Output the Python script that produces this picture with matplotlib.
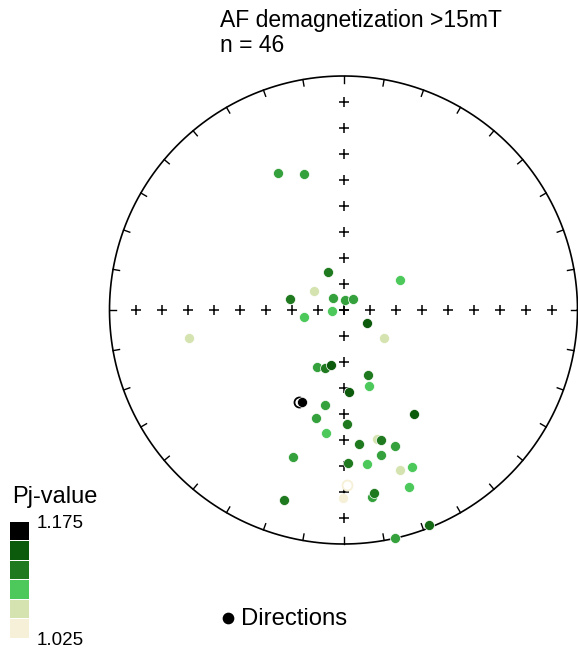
import numpy as np
import matplotlib
matplotlib.use("Agg")
import matplotlib.pyplot as plt
from matplotlib.colors import LinearSegmentedColormap, Normalize
from matplotlib.patches import Rectangle

plt.rcParams["font.family"] = ["Liberation Sans", "DejaVu Sans"]

# specimen directions (deg), negative inclination = upper hemisphere
dec = [334.5, 343.7, 259.9, 338.0, 62.1, 303.5, 281.5, 319.5, 7.0, 40.8,
       260.4, 266.6, 119.8, 124.2, 205.3, 197.6, 193.1, 159.1, 161.2, 175.9,
       206.1, 204.1, 191.0, 145.7, 194.4, 178.2, 188.1, 165.6, 163.9, 173.5,
       159.3, 199.0, 165.5, 178.3, 171.4, 160.6, 156.4, 179.0, 180.1, 159.7,
       171.4, 170.6, 197.4, 158.3, 167.3]
inc = [35.3, 39.2, 33.4, 75.9, 67.9, 77.9, 70.9, 84.4, 86.6, 85.0,
       76.0, 85.9, 80.7, 72.9, 68.2, 68.7, 70.4, 65.7, 62.0, 61.3,
       -54.0, 54.5, 55.9, 45.4, 50.5, 49.7, 45.8, 42.4, 41.6, 41.9,
       37.8, 34.0, 36.3, 34.9, 33.9, 28.5, 27.5, -26.1, 20.9, 20.3,
       20.4, 21.7, 15.9, 1.4, 0.3]
pj = [1.100, 1.100, 1.055, 1.115, 1.085, 1.055, 1.115, 1.100, 1.100, 1.100,
      1.085, 1.085, 1.145, 1.055, 1.100, 1.115, 1.145, 1.115, 1.085, 1.145,
      1.175, 1.175, 1.100, 1.145, 1.100, 1.115, 1.085, 1.055, 1.115, 1.115,
      1.100, 1.100, 1.100, 1.115, 1.085, 1.055, 1.085, 1.025, 1.025, 1.085,
      1.100, 1.115, 1.115, 1.130, 1.100]

pj_levels = [1.025, 1.055, 1.085, 1.115, 1.145, 1.175]
pj_colors = ["#f6f0d8", "#d5e3b0", "#4cc95a", "#1f7a1f", "#0c5a0c", "#000000"]

title = "AF demagnetization >15mT"


def equal_area(d, i):
    d = np.radians(np.asarray(d))
    i = np.radians(np.abs(np.asarray(i)))
    r = np.sqrt(2) * np.sin((np.pi / 2 - i) / 2)
    return r * np.sin(d), r * np.cos(d)


W, H = 578, 654
fig = plt.figure(figsize=(W / 100, H / 100), dpi=100)

cx, cy, R = 343.5, 310, 234
ax = fig.add_axes([(cx - R) / W, (H - cy - R) / H, 2 * R / W, 2 * R / H])
ax.set_xlim(-1, 1)
ax.set_ylim(-1, 1)
ax.set_aspect("equal")
ax.axis("off")

# primitive circle with 10 degree ticks
t = np.linspace(0, 2 * np.pi, 500)
ax.plot(np.cos(t), np.sin(t), color="k", lw=1.2, clip_on=False)
for a in np.radians(np.arange(0, 360, 10)):
    ax.plot([np.sin(a), 0.972 * np.sin(a)], [np.cos(a), 0.972 * np.cos(a)],
            color="k", lw=1.0, clip_on=False)

# crosses along the N-S and E-W axes
steps = np.arange(-8, 9) / 9
ax.plot(steps, np.zeros_like(steps), "+", color="k", ms=6.5, mew=1.1)
ax.plot(np.zeros_like(steps), steps, "+", color="k", ms=6.5, mew=1.1)

cmap = LinearSegmentedColormap.from_list("pj", pj_colors)
norm = Normalize(min(pj_levels), max(pj_levels))

x, y = equal_area(dec, inc)
for xi, yi, ii, p in zip(x, y, inc, pj):
    c = cmap(norm(p))
    if ii < 0:
        ax.scatter(xi, yi, s=52, facecolor="white", edgecolor=c, lw=1.3, zorder=3)
    else:
        ax.scatter(xi, yi, s=52, facecolor=c, edgecolor="white", lw=0.5, zorder=3)

# overlay in pixel coordinates for text and legends
ov = fig.add_axes([0, 0, 1, 1])
ov.set_xlim(0, W)
ov.set_ylim(H, 0)
ov.axis("off")

ov.text(220, 27, title, fontsize=16.5, va="baseline", ha="left")
ov.text(220, 51.5, "n = 46", fontsize=16.5, va="baseline", ha="left")

ov.text(12, 503, "Pj-value", fontsize=17, va="baseline", ha="left")
top, bh = 521.7, 117.3 / len(pj_levels)
for k, lv in enumerate(pj_levels[::-1]):
    ov.add_patch(Rectangle((10, top + k * bh), 19, bh - 1,
                           facecolor=cmap(norm(lv)), edgecolor="none"))
ov.text(37, 528.5, f"{pj_levels[-1]:.3f}", fontsize=13.5, va="baseline")
ov.text(37, 645, f"{pj_levels[0]:.3f}", fontsize=13.5, va="baseline")

ov.scatter([228], [618], s=55, color="k")
ov.text(241, 625, "Directions", fontsize=17.2, va="baseline")

fig.savefig("out.png", dpi=100)
